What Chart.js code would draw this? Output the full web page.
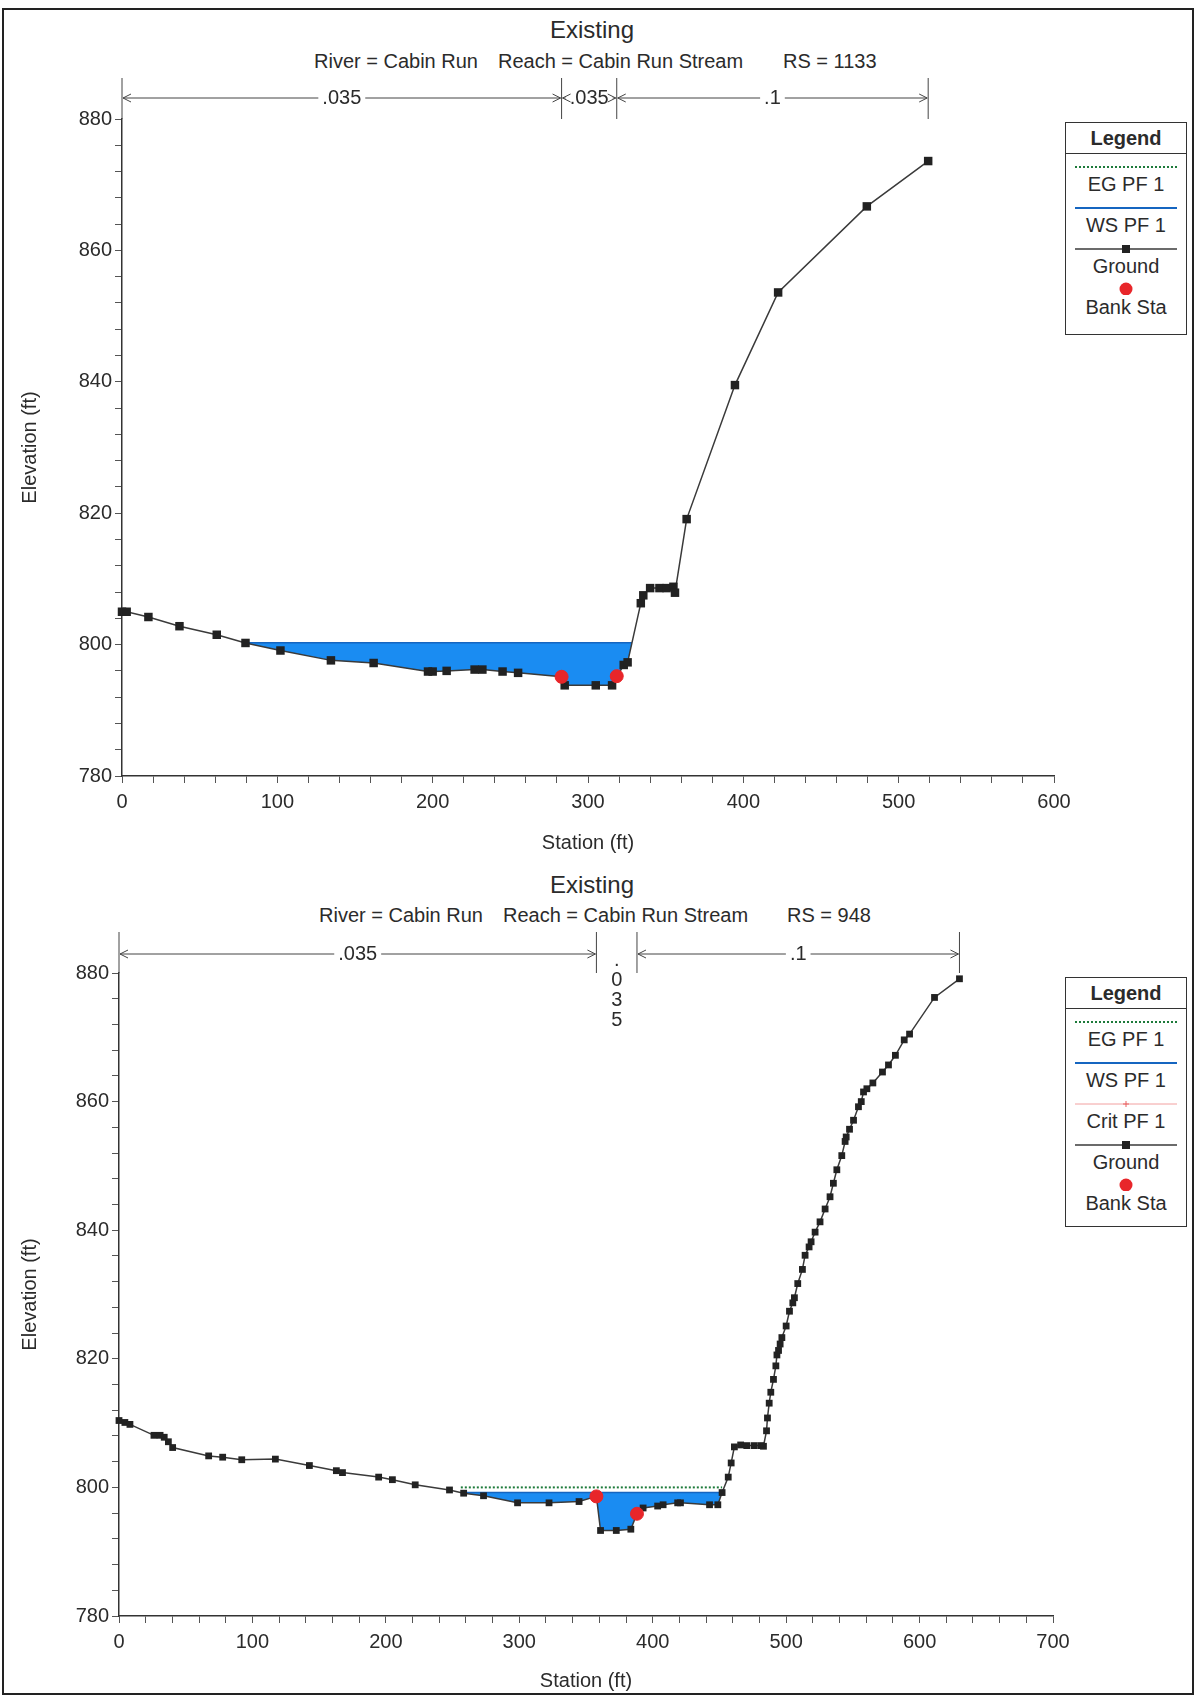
<!DOCTYPE html>
<html>
<head>
<meta charset="utf-8">
<script src="https://cdn.jsdelivr.net/npm/chart.js@4.4.0/dist/chart.umd.min.js"></script>
<style>
body{margin:0;background:#fff;font-family:'Liberation Sans',Arial,sans-serif;color:#2b2b2b}
#page{position:relative;width:1196px;height:1697px;overflow:hidden}
.frame{position:absolute;left:2px;top:8px;width:1192px;height:1687px;border:2px solid #222;box-sizing:border-box}
canvas{position:absolute;left:0}
.t{position:absolute;white-space:pre;line-height:1}
.title{left:0;width:1184px;text-align:center;font-size:24px}
.sub{font-size:20px}
.lg{position:absolute;left:1065px;width:122px;border:1px solid #333;box-sizing:border-box;background:#fff}
.lh{height:30px;line-height:30px;text-align:center;font-weight:bold;font-size:20px;border-bottom:1px solid #333}
.it{height:41px;position:relative}
.it svg{position:absolute;left:9px;top:7px;width:102px;height:12px}
.it span{position:absolute;left:0;right:0;top:19px;text-align:center;font-size:20px;line-height:22px}
</style>
</head>
<body>
<div id="page">
  <div class="frame"></div>

  <div class="t title" style="top:18px">Existing</div>
  <div class="t sub" style="top:51px;left:314px">River = Cabin Run</div>
  <div class="t sub" style="top:51px;left:498px">Reach = Cabin Run Stream</div>
  <div class="t sub" style="top:51px;left:783px">RS = 1133</div>
  <canvas id="topChart" width="1090" height="860" style="top:0"></canvas>

  <div class="t title" style="top:873px">Existing</div>
  <div class="t sub" style="top:905px;left:319px">River = Cabin Run</div>
  <div class="t sub" style="top:905px;left:503px">Reach = Cabin Run Stream</div>
  <div class="t sub" style="top:905px;left:787px">RS = 948</div>
  <canvas id="botChart" width="1090" height="837" style="top:860px"></canvas>

  <div class="lg" style="top:122px;padding-bottom:16px">
    <div class="lh">Legend</div>
    <div class="it"><svg viewBox="0 0 102 12"><line x1="0" y1="6" x2="102" y2="6" stroke="#1d7a3a" stroke-width="2" stroke-dasharray="2,2"/></svg><span>EG PF 1</span></div>
    <div class="it"><svg viewBox="0 0 102 12"><line x1="0" y1="6" x2="102" y2="6" stroke="#1565c0" stroke-width="2"/></svg><span>WS PF 1</span></div>
    <div class="it"><svg viewBox="0 0 102 12"><line x1="0" y1="6" x2="102" y2="6" stroke="#3a3a3a" stroke-width="1.5"/><rect x="47" y="2" width="8" height="8" fill="#222"/></svg><span>Ground</span></div>
    <div class="it"><svg viewBox="0 0 102 12" style="top:4px;height:14px"><circle cx="51" cy="7" r="6.5" fill="#e8262a"/></svg><span>Bank Sta</span></div>
  </div>

  <div class="lg" style="top:977px;padding-bottom:12px">
    <div class="lh">Legend</div>
    <div class="it"><svg viewBox="0 0 102 12"><line x1="0" y1="6" x2="102" y2="6" stroke="#1d7a3a" stroke-width="2" stroke-dasharray="2,2"/></svg><span>EG PF 1</span></div>
    <div class="it"><svg viewBox="0 0 102 12"><line x1="0" y1="6" x2="102" y2="6" stroke="#1565c0" stroke-width="2"/></svg><span>WS PF 1</span></div>
    <div class="it"><svg viewBox="0 0 102 12"><line x1="0" y1="6" x2="102" y2="6" stroke="#f2a0a0" stroke-width="1"/><path d="M48 6h6M51 3v6" stroke="#e86060" stroke-width="1"/></svg><span>Crit PF 1</span></div>
    <div class="it"><svg viewBox="0 0 102 12"><line x1="0" y1="6" x2="102" y2="6" stroke="#3a3a3a" stroke-width="1.5"/><rect x="47" y="2" width="8" height="8" fill="#222"/></svg><span>Ground</span></div>
    <div class="it"><svg viewBox="0 0 102 12" style="top:4px;height:14px"><circle cx="51" cy="7" r="6.5" fill="#e8262a"/></svg><span>Bank Sta</span></div>
  </div>
</div>

<script>
// RS = 1133
const topStation = [0, 3, 17, 37, 61, 79.5, 102, 134.5, 162, 197, 200, 209, 227, 232, 245, 255, 283, 285, 305, 315.5, 323, 325.5, 334, 335.6, 340, 346, 350.6, 355, 356, 363.5, 394.6, 422.4, 479.5, 519]
const topElev = [805, 805, 804.2, 802.8, 801.5, 800.25, 799.1, 797.6, 797.2, 795.9, 795.9, 796, 796.2, 796.2, 795.9, 795.7, 795.1, 793.8, 793.8, 793.8, 796.9, 797.3, 806.3, 807.5, 808.6, 808.6, 808.6, 808.8, 807.9, 819.1, 839.5, 853.6, 866.7, 873.6]
const topBankStation = [283, 318.5]
const topBankElev = [795.1, 795.2]
const topWS = 800.3
const topEG = null   // not visible at this section
const topN = [".035", ".035", ".1"]

// RS = 948
const botStation = [0, 4.4, 8.2, 26.2, 30.8, 33.9, 37, 40.2, 67.2, 77.7, 92, 117.2, 142.7, 162.9, 167.5, 194.6, 204.9, 222, 247.7, 258.3, 273.2, 298.7, 322.3, 344.8, 357.8, 360.9, 372.7, 383.6, 388.2, 392.8, 403.7, 407.8, 418.7, 420.8, 442.6, 448.8, 452, 456.6, 458.8, 461.2, 465.9, 470.5, 476, 481, 483, 485.3, 486, 487.3, 488.5, 490.5, 492.3, 493.1, 494.3, 495.5, 496.8, 500, 502.5, 505, 506.2, 508.7, 512.2, 514.2, 517.2, 518.7, 521.7, 525.4, 529.2, 532.9, 535.4, 538, 541.7, 544.2, 545, 547.5, 550.5, 554.2, 556.3, 558, 560.5, 565, 572.2, 576.7, 581.9, 588.5, 592.5, 611.2, 629.9]
const botElev = [810.4, 810.1, 809.8, 808.1, 808.1, 807.8, 807.1, 806.2, 804.9, 804.7, 804.3, 804.4, 803.4, 802.6, 802.3, 801.6, 801.2, 800.4, 799.6, 799.1, 798.7, 797.6, 797.6, 797.8, 798.6, 793.3, 793.3, 793.5, 795.9, 796.8, 797.1, 797.3, 797.6, 797.6, 797.3, 797.3, 799.2, 801.6, 803.8, 806.3, 806.6, 806.5, 806.5, 806.5, 806.4, 808.8, 810.8, 813.1, 814.8, 816.8, 818.9, 820.6, 821.3, 822.3, 823.3, 825.1, 827.4, 828.7, 829.5, 831.7, 833.9, 836.1, 837.4, 838.2, 839.7, 841.3, 843.3, 845.2, 847.3, 849.4, 851.6, 853.8, 854.5, 855.7, 857.1, 859.2, 860, 861.5, 862, 862.9, 864.6, 865.7, 867.2, 869.6, 870.5, 876.2, 879.1]
const botBankStation = [357.8, 388.2]
const botBankElev = [798.6, 795.9]
const botWS = 799.2
const botEG = 800.0
const botN = [".035", ".035", ".1"]

const elevMin = 780, elevMax = 880
const FONT = "'Liberation Sans', Arial, sans-serif"
const TXT = "#2b2b2b"

// where the water surface meets the ground on each side
function crossings(st, el, ws){
    let left = null, right = null
    for(let i = 1; i < st.length; i++){
        const a = el[i-1], b = el[i]
        const x = st[i-1] + (ws - a) / (b - a) * (st[i] - st[i-1])
        if(left === null && a >= ws && b < ws) left = x
        else if(left !== null && right === null && a < ws && b >= ws) right = x
    }
    return [left, right]
}

function waterShape(st, el, ws){
    const [l, r] = crossings(st, el, ws)
    const pts = [{x: l, y: ws}, {x: r, y: ws}]
    for(let i = st.length - 1; i >= 0; i--){
        if(st[i] > l && st[i] < r) pts.push({x: st[i], y: el[i]})
    }
    pts.push({x: l, y: ws})
    return pts
}

// manning's n brackets above the plot
const nBrackets = {
    id: "nBrackets",
    afterDraw(chart, args, opts){
        const {ctx, chartArea, scales: {x}} = chart
        const xs = opts.edges.map(v => x.getPixelForValue(v))
        const y0 = chartArea.top - opts.rise
        const yr = chartArea.top - opts.row
        ctx.save()
        ctx.strokeStyle = "#444"
        ctx.lineWidth = 1
        ctx.fillStyle = TXT
        ctx.font = "20px " + FONT
        ctx.textAlign = "center"
        ctx.textBaseline = "middle"
        xs.forEach(px => {
            ctx.beginPath(); ctx.moveTo(px, y0); ctx.lineTo(px, chartArea.top); ctx.stroke()
        })
        for(let i = 0; i < opts.labels.length; i++){
            const a = xs[i], b = xs[i+1], mid = (a + b) / 2
            const label = opts.labels[i]
            if(b - a < 45){
                // too narrow: stack the characters
                label.split("").forEach((c, k) => ctx.fillText(c, mid, yr + 6 + k * 20))
                continue
            }
            const w = ctx.measureText(label).width + 8
            ctx.beginPath()
            ctx.moveTo(a + 1, yr); ctx.lineTo(mid - w / 2, yr)
            ctx.moveTo(mid + w / 2, yr); ctx.lineTo(b - 1, yr)
            ctx.moveTo(a + 9, yr - 4); ctx.lineTo(a + 1, yr); ctx.lineTo(a + 9, yr + 4)
            ctx.moveTo(b - 9, yr - 4); ctx.lineTo(b - 1, yr); ctx.lineTo(b - 9, yr + 4)
            ctx.stroke()
            ctx.fillText(label, mid, yr)
        }
        ctx.restore()
    }
}

function drawSection(id, d){
    const [l, r] = crossings(d.station, d.elev, d.ws)
    const ground = d.station.map((s, i) => ({x: s, y: d.elev[i]}))
    const banks = d.bankStation.map((s, i) => ({x: s, y: d.bankElev[i]}))
    const tickFont = {size: 20, family: FONT}

    const datasets = [
        {
            label: "Bank Sta", data: banks, showLine: false, order: 0, clip: false,
            pointStyle: "circle", pointRadius: 6.5, backgroundColor: "#e8262a", borderColor: "#e8262a",
        },
        {
            label: "Ground", data: ground, order: 1, clip: false,
            borderColor: "#3a3a3a", borderWidth: 1.5,
            pointStyle: "rect", pointRadius: d.marker, pointBackgroundColor: "#222", pointBorderColor: "#222", pointBorderWidth: 0,
        },
        {
            label: "WS PF 1", data: [{x: l, y: d.ws}, {x: r, y: d.ws}], order: 2,
            borderColor: "#1565c0", borderWidth: 1.5, pointRadius: 0,
        },
        {
            label: "water", data: waterShape(d.station, d.elev, d.ws), order: 4,
            fill: "shape", backgroundColor: "#1a8cf2", borderWidth: 0, pointRadius: 0,
        },
    ]
    if(d.eg !== null){
        datasets.push({
            label: "EG PF 1", data: [{x: l, y: d.eg}, {x: r, y: d.eg}], order: 3,
            borderColor: "#1d7a3a", borderWidth: 2, borderDash: [2, 2], pointRadius: 0,
        })
    }

    return new Chart(document.getElementById(id).getContext("2d"), {
        type: "line",
        data: {datasets},
        options: {
            responsive: false,
            animation: false,
            devicePixelRatio: 1,
            layout: {padding: {left: 16, right: d.padRight, top: d.padTop, bottom: 0}},
            plugins: {
                legend: {display: false},
                tooltip: {enabled: false},
                nBrackets: {
                    edges: [d.station[0], d.bankStation[0], d.bankStation[1], d.station[d.station.length - 1]],
                    labels: d.n, rise: 41, row: d.row,
                },
            },
            scales: {
                x: {
                    type: "linear", min: 0, max: d.xMax,
                    afterFit: s => { s.height = d.xAxisH },
                    ticks: {stepSize: 20, autoSkip: false, maxRotation: 0, padding: 7, color: TXT, font: tickFont,
                        callback: v => v % 100 === 0 ? v : ""},
                    grid: {drawOnChartArea: false, tickLength: 7, color: "#555"},
                    border: {color: "#333", width: 1.5},
                    title: {display: true, text: "Station (ft)", color: TXT, font: tickFont, padding: {top: 0, bottom: d.xTitlePad}},
                },
                y: {
                    min: elevMin, max: elevMax,
                    afterFit: s => { s.width = d.yAxisW },
                    ticks: {stepSize: 4, autoSkip: false, padding: 3, color: TXT, font: tickFont,
                        callback: v => (v - elevMin) % 20 === 0 ? v : ""},
                    grid: {drawOnChartArea: false, tickLength: 7, color: "#555"},
                    border: {color: "#333", width: 1.5},
                    title: {display: true, text: "Elevation (ft)", color: TXT, font: tickFont, padding: {top: 2, bottom: 0}},
                },
            },
        },
        plugins: [nBrackets],
    })
}

drawSection("topChart", {
    station: topStation, elev: topElev, bankStation: topBankStation, bankElev: topBankElev,
    ws: topWS, eg: topEG, n: topN, xMax: 600, marker: 6,
    padTop: 119, padRight: 36, xAxisH: 84, yAxisW: 106, xTitlePad: 5, row: 21,
})

drawSection("botChart", {
    station: botStation, elev: botElev, bankStation: botBankStation, bankElev: botBankElev,
    ws: botWS, eg: botEG, n: botN, xMax: 700, marker: 4.8,
    padTop: 113, padRight: 37, xAxisH: 81, yAxisW: 103, xTitlePad: 4, row: 19,
})
</script>
</body>
</html>
